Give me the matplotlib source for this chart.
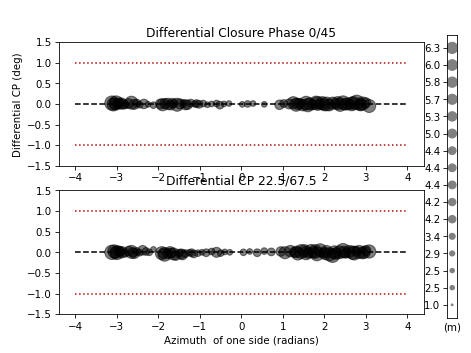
import matplotlib.pyplot as plt

# baseline lengths (m) for the size key
key_lengths = [1.0, 2.5, 2.5, 2.9, 3.4, 4.2, 4.2, 4.4, 4.4, 4.4, 5.0, 5.3, 5.7, 5.8, 6.0, 6.3]

# panel 1: 0/45
az_a = [-3.12, -3.08, -3.02, -2.97, -2.90, -2.80, -2.72, -2.65, -2.58, -2.52, -2.45, -2.35, -2.25, -2.12,
        -1.90, -1.84, -1.77, -1.70, -1.62, -1.55, -1.48, -1.40, -1.30, -1.22, -1.12, -1.02, -0.92, -0.82,
        -0.72, -0.60, -0.52, -0.42, -0.30, 0.02, 0.15, 0.28, 0.55, 0.92, 1.02, 1.15, 1.25, 1.32, 1.40,
        1.48, 1.56, 1.65, 1.72, 1.80, 1.88, 1.95, 2.05, 2.12, 2.20, 2.28, 2.38, 2.45, 2.55, 2.62, 2.70,
        2.78, 2.85, 2.92, 3.00, 3.08,
        -3.05, -2.94, -2.84, -1.95, -1.66, -1.35, -1.08, 1.36, 1.60, 1.84, 2.00, 2.32, 2.50, 2.66, 2.88]
dcp_a = [0.02, -0.01, 0.03, 0.00, 0.01, -0.02, 0.01, 0.03, -0.01, 0.02, -0.02, 0.00, -0.01, -0.03,
         -0.02, 0.01, 0.00, -0.03, 0.01, -0.02, 0.00, 0.01, -0.02, 0.02, 0.00, -0.01, 0.01, -0.02,
         0.00, 0.01, -0.03, 0.00, 0.01, -0.01, 0.00, 0.01, -0.01, -0.02, 0.01, 0.00, 0.03, -0.02, 0.01,
         -0.03, 0.02, 0.00, -0.02, 0.03, -0.01, 0.02, 0.00, -0.03, 0.02, 0.01, -0.02, 0.03, 0.00, -0.01,
         0.02, 0.04, -0.02, 0.01, 0.03, -0.05,
         0.00, 0.02, -0.01, 0.00, 0.02, -0.02, 0.01, 0.00, -0.03, 0.01, -0.02, 0.02, -0.01, 0.00, -0.02]
len_a = [6.3, 5.8, 6.0, 4.4, 5.0, 3.4, 4.2, 5.7, 4.4, 3.4, 2.9, 4.2, 2.5, 2.9,
         5.3, 4.4, 5.0, 4.2, 3.4, 5.7, 4.4, 3.4, 4.2, 3.4, 2.9, 3.4, 2.9, 2.5,
         2.5, 2.9, 3.4, 2.5, 2.5, 2.5, 2.9, 2.5, 2.5, 4.2, 3.4, 4.4, 5.3, 5.7, 4.4,
         5.0, 6.0, 5.3, 4.4, 5.8, 4.2, 5.7, 6.0, 5.0, 5.3, 4.4, 5.8, 6.0, 5.3, 4.2,
         5.7, 6.3, 5.0, 5.8, 4.4, 5.7,
         5.0, 4.4, 4.2, 4.4, 4.2, 4.4, 3.4, 5.0, 5.8, 6.0, 5.3, 5.7, 5.0, 6.0, 5.3]

# panel 2: 22.5/67.5
az_b = [-3.12, -3.06, -3.00, -2.95, -2.88, -2.80, -2.72, -2.65, -2.58, -2.52, -2.45, -2.38, -2.30, -2.22, -2.12,
        -1.92, -1.85, -1.78, -1.72, -1.64, -1.58, -1.50, -1.42, -1.35, -1.25, -1.15, -1.05, -0.95,
        -0.85, -0.72, -0.60, -0.50, -0.40, -0.28, 0.05, 0.20, 0.38, 0.55, 0.72, 0.95, 1.05, 1.18, 1.28,
        1.36, 1.44, 1.52, 1.60, 1.68, 1.75, 1.82, 1.90, 1.98, 2.05, 2.12, 2.20, 2.28, 2.36, 2.45, 2.52,
        2.60, 2.68, 2.76, 2.84, 2.92, 3.00, 3.08,
        -3.03, -2.92, -2.62, -1.88, -1.68, -1.45, -1.20, 1.32, 1.56, 1.78, 2.02, 2.24, 2.48, 2.72, 2.96]
dcp_b = [0.00, 0.02, -0.01, 0.03, 0.00, -0.02, 0.03, 0.01, -0.03, 0.02, -0.01, 0.05, 0.02, 0.00, 0.07,
         -0.02, -0.05, -0.03, 0.00, -0.04, -0.08, -0.02, -0.06, -0.03, -0.01, -0.04, -0.02, 0.00,
         -0.01, 0.02, 0.00, -0.02, 0.01, 0.00, 0.00, 0.02, -0.01, 0.03, 0.01, 0.02, -0.01, 0.03, 0.00,
         -0.03, 0.02, 0.04, -0.02, 0.03, 0.00, -0.04, 0.05, -0.02, 0.02, -0.05, -0.08, -0.03, 0.00, 0.04,
         -0.02, 0.02, -0.01, 0.03, 0.01, -0.02, 0.04, 0.02,
         -0.01, 0.01, 0.00, -0.03, -0.02, -0.04, -0.01, 0.01, -0.02, 0.02, -0.03, 0.00, 0.01, -0.02, 0.00]
len_b = [6.3, 5.8, 6.0, 4.4, 5.0, 3.4, 4.2, 5.7, 4.4, 3.4, 2.9, 4.2, 3.4, 2.9, 2.5,
         5.7, 6.0, 4.4, 5.0, 5.3, 4.2, 3.4, 4.4, 3.4, 2.9, 3.4, 2.9, 2.5,
         3.4, 2.9, 4.4, 2.9, 2.5, 2.5, 2.9, 2.5, 3.4, 2.9, 3.4, 4.2, 5.3, 5.0, 4.4,
         5.7, 6.0, 5.3, 4.4, 5.8, 5.0, 6.0, 5.7, 4.4, 5.3, 5.8, 6.0, 5.0, 5.7, 6.3, 4.4,
         5.3, 5.8, 4.2, 5.7, 5.0, 4.4, 5.8,
         5.0, 4.4, 4.2, 4.4, 4.2, 4.4, 3.4, 5.0, 5.8, 6.0, 5.3, 5.7, 5.0, 6.0, 5.3]


def panel(ax, az, dcp, lens, title):
    ax.plot([-4, 4], [0, 0], "k--")
    ax.plot([-4, 4], [1, 1], ":", color="#b01010")
    ax.plot([-4, 4], [-1, -1], ":", color="#b01010")
    ax.scatter(az, dcp, s=[5 * l ** 2 for l in lens], c="k", alpha=0.5)
    ax.set_ylim(-1.5, 1.5)
    ax.set_title(title)


fig = plt.figure(figsize=(6.4, 4.8), dpi=73.6)

ax1 = plt.subplot(211)
panel(ax1, az_a, dcp_a, len_a, "Differential Closure Phase 0/45")
ax1.set_ylabel("Differential CP (deg)")

ax2 = plt.subplot(212)
panel(ax2, az_b, dcp_b, len_b, "Differential CP 22.5/67.5")
ax2.set_xlabel("Azimuth  of one side (radians)")

# size key
cax = fig.add_axes([0.95, 0.1, 0.02, 0.8])
pos = list(range(len(key_lengths)))
cax.scatter([0] * len(pos), pos, s=[3 * l ** 2 for l in key_lengths], c="gray")
cax.set_yticks(pos)
cax.set_yticklabels(["%.1f" % l for l in key_lengths])
cax.set_xticks([])
cax.set_xlabel("(m)")

plt.savefig("out.png")
